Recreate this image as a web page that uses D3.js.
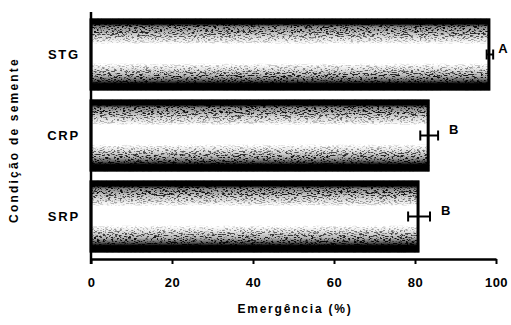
<!DOCTYPE html>
<html>
<head>
<meta charset="utf-8">
<script src="https://cdn.jsdelivr.net/npm/d3@7"></script>
<style>
  body { margin: 0; background: #fff; }
  svg { display: block; font-family: "Liberation Sans", Arial, sans-serif; }
</style>
</head>
<body>
<div id="graph"></div>
<script>
const categories = ["STG", "CRP", "SRP"];
const values = [98.5, 83.5, 81];
const errors = [0.8, 2.2, 2.7];
const letters = ["A", "B", "B"];
const xTicks = [0, 20, 40, 60, 80, 100];

const width = 511, height = 325;

const svg = d3.select("#graph").append("svg")
  .attr("width", width)
  .attr("height", height);

const defs = svg.append("defs");

// base shading: dark edges, light grey bands, white middle
const grad = defs.append("linearGradient")
  .attr("id", "barGrad")
  .attr("x1", 0).attr("y1", 0).attr("x2", 0).attr("y2", 1);
[[0, "#000"], [0.07, "#000"], [0.11, "#888"], [0.2, "#c4c4c4"], [0.3, "#eee"], [0.35, "#fff"],
 [0.64, "#fff"], [0.7, "#eaeaea"], [0.8, "#b4b4b4"], [0.87, "#555"], [0.91, "#000"], [1, "#000"]]
  .forEach(s => grad.append("stop").attr("offset", s[0]).attr("stop-color", s[1]));

// where the speckle shows (opacity only)
const speckGrad = defs.append("linearGradient")
  .attr("id", "speckGrad")
  .attr("x1", 0).attr("y1", 0).attr("x2", 0).attr("y2", 1);
[[0, 1], [0.18, 0.9], [0.28, 0.45], [0.36, 0], [0.62, 0], [0.7, 0.45], [0.8, 0.9], [1, 1]]
  .forEach(s => speckGrad.append("stop").attr("offset", s[0])
    .attr("stop-color", "#000").attr("stop-opacity", s[1]));

const speck = defs.append("filter").attr("id", "speck")
  .attr("x", 0).attr("y", 0).attr("width", 1).attr("height", 1)
  .attr("color-interpolation-filters", "sRGB");
speck.append("feTurbulence")
  .attr("type", "fractalNoise")
  .attr("baseFrequency", "0.35 1.1")
  .attr("numOctaves", 2)
  .attr("seed", 7)
  .attr("result", "n");
speck.append("feColorMatrix")
  .attr("in", "n").attr("type", "matrix")
  .attr("values", "0 0 0 0 0  0 0 0 0 0  0 0 0 0 0  8 0 0 0 -4.1")
  .attr("result", "dots");
speck.append("feComposite")
  .attr("in", "dots").attr("in2", "SourceGraphic").attr("operator", "in");

const x = d3.scaleLinear().domain([0, 100]).range([91, 496]);
const y = d3.scaleBand()
  .domain(categories)
  .range([14, 257])
  .paddingInner(0.12)
  .paddingOuter(0.06);

const data = categories.map((c, i) => ({ cat: c, v: values[i], e: errors[i], l: letters[i] }));

// bars
const bars = svg.append("g");
bars.selectAll("rect.fill")
  .data(data)
  .join("rect")
  .attr("class", "fill")
  .attr("x", x(0))
  .attr("y", d => y(d.cat))
  .attr("width", d => x(d.v) - x(0))
  .attr("height", y.bandwidth())
  .attr("fill", "url(#barGrad)");

bars.selectAll("rect.speck")
  .data(data)
  .join("rect")
  .attr("class", "speck")
  .attr("x", x(0))
  .attr("y", d => y(d.cat))
  .attr("width", d => x(d.v) - x(0))
  .attr("height", y.bandwidth())
  .attr("fill", "url(#speckGrad)")
  .attr("filter", "url(#speck)");

bars.selectAll("rect.edge")
  .data(data)
  .join("rect")
  .attr("class", "edge")
  .attr("x", x(0))
  .attr("y", d => y(d.cat) + 1)
  .attr("width", d => x(d.v) - x(0) - 1)
  .attr("height", y.bandwidth() - 2)
  .attr("fill", "none")
  .attr("stroke", "#000")
  .attr("stroke-width", 3);

// error bars
const eb = svg.append("g").attr("stroke", "#000").attr("stroke-width", 2);
data.forEach(d => {
  const cy = y(d.cat) + y.bandwidth() / 2;
  eb.append("line").attr("x1", x(d.v - d.e)).attr("x2", x(d.v + d.e)).attr("y1", cy).attr("y2", cy);
  eb.append("line").attr("x1", x(d.v - d.e)).attr("x2", x(d.v - d.e)).attr("y1", cy - 5).attr("y2", cy + 5);
  eb.append("line").attr("x1", x(d.v + d.e)).attr("x2", x(d.v + d.e)).attr("y1", cy - 5).attr("y2", cy + 5);
});

// significance letters
svg.append("g").selectAll("text")
  .data(data)
  .join("text")
  .attr("x", d => x(d.v + d.e) + (d.cat === "STG" ? 5 : 11))
  .attr("y", d => y(d.cat) + y.bandwidth() / 2 - 2)
  .style("font-size", "13px")
  .style("font-weight", "bold")
  .text(d => d.l);

// x axis
const xAxis = svg.append("g")
  .attr("transform", "translate(0,259)")
  .call(d3.axisBottom(x).tickValues(xTicks).tickSize(5).tickSizeOuter(0).tickPadding(14));
xAxis.select(".domain").attr("stroke-width", 2.5);
xAxis.selectAll(".tick line").attr("stroke-width", 2);
xAxis.selectAll(".tick text")
  .style("font-size", "13px")
  .style("font-weight", "bold")
  .style("letter-spacing", "0.5px")
  .style("font-family", "Liberation Sans, Arial, sans-serif");

// y axis
const yAxis = svg.append("g")
  .attr("transform", "translate(91,0)")
  .call(d3.axisLeft(y).tickSize(0).tickPadding(11));
yAxis.select(".domain").attr("d", "M0,12V264").attr("stroke-width", 2.5);
yAxis.selectAll(".tick text")
  .style("font-size", "13px")
  .style("font-weight", "bold")
  .style("letter-spacing", "1.8px")
  .style("font-family", "Liberation Sans, Arial, sans-serif");

// titles
svg.append("text")
  .attr("x", 295)
  .attr("y", 313)
  .attr("text-anchor", "middle")
  .style("font-size", "12px")
  .style("font-weight", "bold")
  .style("letter-spacing", "1.8px")
  .text("Emergência (%)");

svg.append("text")
  .attr("transform", "translate(18,140) rotate(-90)")
  .attr("text-anchor", "middle")
  .style("font-size", "12px")
  .style("font-weight", "bold")
  .style("letter-spacing", "2.2px")
  .text("Condição de semente");
</script>
</body>
</html>
